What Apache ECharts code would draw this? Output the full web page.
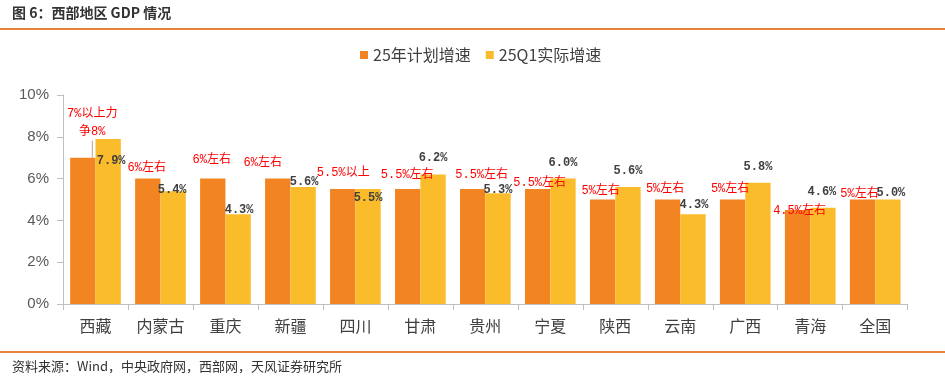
<!DOCTYPE html>
<html><head><meta charset="utf-8">
<script src="https://cdn.jsdelivr.net/npm/echarts@6/dist/echarts.min.js"></script>
<style>html,body{margin:0;padding:0;background:#fff}#c{width:945px;height:381px}</style>
</head><body><div id="c"></div>
<script>
// ---- data ----
const categories = ['西藏','内蒙古','重庆','新疆','四川','甘肃','贵州','宁夏','陕西','云南','广西','青海','全国'];
const planValues = [7, 6, 6, 6, 5.5, 5.5, 5.5, 5.5, 5, 5, 5, 4.5, 5];
const planLabels = ['7%以上力\n争8%','6%左右','6%左右','6%左右','5.5%以上','5.5%左右','5.5%左右','5.5%左右','5%左右','5%左右','5%左右','4.5%左右','5%左右'];
const actualValues = [7.9, 5.4, 4.3, 5.6, 5.5, 6.2, 5.3, 6.0, 5.6, 4.3, 5.8, 4.6, 5.0];
const seriesNames = ['25年计划增速','25Q1实际增速'];
const yTicks = [0, 2, 4, 6, 8, 10];

// label placement tweaks (label centre relative to bar top), kept apart from data
const planLabelDx = [9.5,-1,-1,-15,0.5,-0.5,9,2,-2,-2.5,-2.5,2,-3];
const planLabelDy = [-35,-11,-18.5,-16,-16,-14,-14,-6,-8.5,-10.5,-10.5,0.5,-5.5];
const actLabelDx = [3,-1,1,1,0,0,0,0,0,1,0,-1,3];
const actLabelDy = [22.5,-1,-4,-5,9,-16.5,-3,-16,-16,-9,-16,-16,-6.5];

const chart = echarts.init(document.getElementById('c'), null, {renderer:'canvas'});

const planData = planValues.map((v,i)=>({
  value:v,
  label:{formatter: planLabels[i]},
  labelLine:{show: i === 0}
}));
const actData = actualValues.map((v,i)=>({value:v, label:{offset:[actLabelDx[i], actLabelDy[i]]}}));

chart.setOption({
  animation:false,
  backgroundColor:'#fff',
  graphic:[
    {type:'text', left:12, top:6, style:{text:'图 6：西部地区 GDP 情况', fill:'#333', font:'bold 14px "Noto Sans CJK SC", sans-serif'}},
    {type:'rect', left:0, top:28, shape:{width:945, height:2}, style:{fill:'#E8843A'}},
    {type:'rect', left:0, top:351, shape:{width:945, height:2}, style:{fill:'#E8843A'}},
    {type:'text', left:12, top:360, style:{text:'资料来源：Wind，中央政府网，西部网，天风证券研究所', fill:'#333', font:'13px "Noto Sans CJK SC", sans-serif'}}
  ],
  legend:{
    left:355, top:42, itemWidth:8, itemHeight:8, itemGap:15, icon:'rect',
    textStyle:{fontSize:16, color:'#404040', fontFamily:'"Noto Sans CJK SC", sans-serif'},
    data:seriesNames
  },
  grid:{left:63, right:37.3, top:95, bottom:77, containLabel:false},
  xAxis:{
    type:'category', data:categories,
    axisLine:{lineStyle:{color:'#BFBFBF'}},
    axisTick:{show:true, length:6, alignWithLabel:false, lineStyle:{color:'#BFBFBF'}},
    axisLabel:{fontSize:16, color:'#404040', margin:14, fontFamily:'"Noto Sans CJK SC", serif'}
  },
  yAxis:{
    type:'value', min:yTicks[0], max:yTicks[yTicks.length-1], interval:2,
    axisLine:{show:true, lineStyle:{color:'#BFBFBF'}},
    axisTick:{show:true, length:6, lineStyle:{color:'#BFBFBF'}},
    splitLine:{show:false},
    axisLabel:{fontSize:15, color:'#595959', margin:14, fontFamily:'"Liberation Sans", Arial, sans-serif', formatter:v=>v+'%'}
  },
  series:[
    {
      name:seriesNames[0], type:'bar', data:planData, barGap:'0%', barCategoryGap:'22%',
      itemStyle:{color:'#F28522'},
      label:{show:true, position:'top', distance:0, align:'center', verticalAlign:'middle',
        color:'#FF0000', fontSize:12, lineHeight:18, fontFamily:'"Liberation Mono", "Noto Sans CJK SC", monospace'},
      labelLine:{show:true, lineStyle:{color:'#A6A6A6', width:1}},
      labelLayout:function(p){ return {dx:planLabelDx[p.dataIndex], dy:planLabelDy[p.dataIndex]}; }
    },
    {
      name:seriesNames[1], type:'bar', data:actData, barGap:'0%', barCategoryGap:'22%',
      itemStyle:{color:'#FBBC2C'},
      label:{show:true, position:'top', distance:0, align:'center', verticalAlign:'middle',
        color:'#404040', fontSize:12, fontWeight:'bold', fontFamily:'"Liberation Mono", monospace',
        formatter:p=>p.value.toFixed(1)+'%'}
    }
  ]
});
</script></body></html>
